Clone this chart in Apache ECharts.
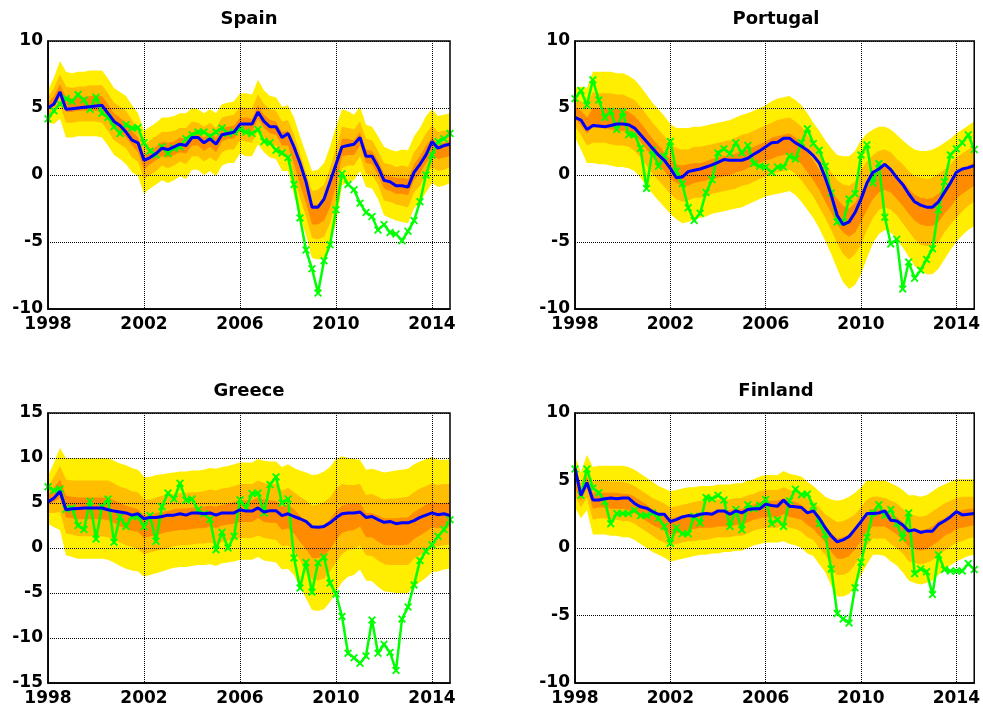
<!DOCTYPE html>
<html><head><meta charset="utf-8">
<script src="https://cdn.jsdelivr.net/npm/echarts@6/dist/echarts.min.js"></script>
<style>html,body{margin:0;padding:0;background:#fff}#c{width:983px;height:709px}</style>
</head><body><div id="c"></div>
<script>
// quarterly categories 1998Q1 .. 2014Q4
const quarters = [];
for (let y = 1998; y <= 2014; y++) for (let q = 1; q <= 4; q++) quarters.push(y + 'Q' + q);
const yearTicks = ['1998', '2002', '2006', '2010', '2014'];

// ---------- Spain ----------
const esLo = [3.9,3.8,4.2,2.8,2.8,2.9,2.9,2.9,2.9,2.8, 2.2,1.5,1.2,0.8,0.2,-0.1,-1.4,-1.0,-0.7,-0.4, -0.6,-0.4,-0.1,-0.3,0.4,0.4,0.0,0.3,-0.1,0.7, 0.9,0.9,1.6,1.4,1.4,2.3,1.7,1.3,1.2,0.3, 0.3,-1.5,-3.0,-4.5,-6.2,-6.3,-6.2,-5.2,-3.6,-0.8, -0.5,-0.4,0.3,-0.9,-1.0,-1.8,-3.0,-3.2,-3.4,-3.5, -3.6,-2.5,-2.0,-1.3,-0.6,-0.9,-0.8,-0.6];
const esHi = [6.3,7.3,8.5,7.7,7.6,7.7,7.7,7.8,7.8,7.8, 7.2,6.5,6.2,5.9,5.2,4.6,3.3,3.6,3.9,4.3, 4.3,4.4,4.6,4.6,5.0,4.9,4.6,4.9,4.6,5.3, 5.4,5.5,6.1,6.1,6.0,7.1,6.3,5.9,5.8,5.1, 5.2,4.3,2.9,1.6,0.3,0.4,0.9,2.1,3.6,4.9, 4.75,4.5,5.1,3.75,3.6,2.9,2.1,1.9,1.75,1.9, 1.85,2.9,3.5,4.4,4.9,4.4,4.5,4.6];
const esMidLo = [4.4,4.6,5.2,3.9,3.9,4.0,4.0,4.0,4.0,3.9, 3.3,2.6,2.3,2.0,1.3,1.0,-0.3,0.0,0.3,0.7, 0.5,0.7,1.0,0.8,1.4,1.4,1.0,1.3,1.0,1.7, 1.9,1.9,2.6,2.5,2.4,3.4,2.7,2.3,2.2,1.4, 1.4,-0.2,-1.7,-3.1,-4.7,-4.8,-4.6,-3.6,-2.0,0.5, 0.7,0.7,1.4,0.1,0.0,-0.7,-1.9,-2.0,-2.2,-2.3, -2.4,-1.3,-0.8,0.0,0.6,0.3,0.4,0.6];
const esMidHi = [5.8,6.5,7.5,6.6,6.5,6.6,6.6,6.7,6.7,6.7, 6.1,5.4,5.1,4.8,4.1,3.5,2.2,2.6,2.9,3.2, 3.2,3.3,3.5,3.5,4.0,3.9,3.6,3.9,3.5,4.3, 4.4,4.5,5.1,5.0,5.0,6.0,5.3,4.9,4.8,4.0, 4.1,3.0,1.6,0.2,-1.2,-1.1,-0.7,0.5,2.0,3.6, 3.5,3.4,4.0,2.7,2.6,1.8,0.9,0.8,0.6,0.7, 0.6,1.7,2.3,3.1,3.7,3.2,3.3,3.4];
const esCoreLo = [4.8,5.2,5.9,4.7,4.7,4.8,4.8,4.8,4.8,4.7, 4.2,3.5,3.2,2.8,2.2,1.7,0.4,0.8,1.1,1.4, 1.3,1.5,1.7,1.6,2.2,2.2,1.8,2.1,1.7,2.5, 2.7,2.7,3.4,3.2,3.2,4.2,3.5,3.1,3.0,2.2, 2.2,0.8,-0.7,-2.1,-3.7,-3.7,-3.4,-2.4,-0.8,1.4, 1.5,1.5,2.2,0.9,0.8,0.0,-1.0,-1.2,-1.4,-1.4, -1.5,-0.4,0.1,0.9,1.5,1.2,1.3,1.4];
const esCoreHi = [5.4,5.9,6.8,5.8,5.7,5.8,5.8,5.9,5.9,5.9, 5.3,4.6,4.3,3.9,3.3,2.8,1.5,1.8,2.1,2.5, 2.4,2.5,2.8,2.7,3.2,3.1,2.8,3.1,2.8,3.5, 3.6,3.7,4.3,4.3,4.2,5.2,4.5,4.1,4.0,3.2, 3.3,2.0,0.6,-0.8,-2.2,-2.2,-1.9,-0.7,0.8,2.7, 2.7,2.6,3.2,1.9,1.8,1.1,0.1,-0.1,-0.2,-0.2, -0.3,0.8,1.4,2.2,2.8,2.3,2.4,2.6];
const esMed = [5.0,5.3,6.2,4.9,4.95,5.0,5.05,5.1,5.15,5.2, 4.6,4.0,3.7,3.2,2.6,2.4,1.1,1.3,1.6,2.0, 1.9,2.1,2.3,2.2,2.8,2.8,2.4,2.7,2.3,3.0, 3.1,3.2,3.8,3.8,3.8,4.7,4.0,3.6,3.6,2.8, 3.1,2.1,0.9,-0.5,-2.4,-2.4,-1.8,-0.5,0.8,2.1, 2.2,2.3,2.8,1.4,1.4,0.6,-0.4,-0.5,-0.8,-0.8, -0.9,0.2,0.8,1.5,2.5,2.0,2.2,2.3];
const esAct = [4.2,4.8,5.3,5.7,5.5,6.0,5.6,4.9,5.8,4.6, 4.3,3.6,3.1,3.75,3.5,3.55,2.4,1.8,1.5,2.1, 1.6,2.0,2.1,2.7,3.0,3.2,3.2,2.9,3.2,3.5, 3.1,3.2,3.4,3.2,3.1,3.4,2.5,2.4,1.85,1.65, 1.3,-0.7,-3.2,-5.6,-7.0,-8.8,-6.4,-5.2,-2.6,0.1, -0.7,-1.1,-2.1,-2.8,-3.1,-4.1,-3.7,-4.3,-4.4,-4.9, -4.2,-3.4,-2.0,0.0,1.5,2.5,2.7,3.1];

// ---------- Portugal ----------
const ptLo = [2.8,1.9,0.9,0.9,0.8,0.8,0.7,0.6,0.6,0.5, 0.3,-0.2,-0.8,-1.4,-1.9,-2.4,-2.9,-3.3,-3.6,-3.5, -3.3,-3.2,-3.1,-2.9,-2.8,-2.7,-2.6,-2.5,-2.4,-2.2, -2.0,-1.8,-1.6,-1.5,-1.4,-1.3,-1.2,-1.5,-2.0,-2.6, -3.2,-4.0,-4.9,-5.9,-7.0,-8.0,-8.5,-8.2,-7.4,-6.2, -5.1,-4.4,-4.1,-4.3,-4.8,-5.4,-6.1,-6.8,-7.2,-7.4, -7.4,-7.0,-6.3,-5.6,-5.0,-4.5,-4.1,-3.8];
const ptHi = [6.5,6.6,6.5,7.7,7.7,7.7,7.7,7.6,7.6,7.4, 7.1,6.6,6.0,5.4,4.9,4.4,3.8,3.5,3.5,3.5, 3.6,3.6,3.7,3.8,3.9,4.0,4.1,4.3,4.5,4.6, 4.8,5.0,5.2,5.5,5.7,5.8,5.9,5.6,5.2,4.6, 3.9,3.3,2.6,2.0,1.5,1.4,1.4,1.8,2.6,3.1, 3.4,3.6,3.6,3.4,3.0,2.6,2.2,1.9,1.8,1.8, 1.9,2.1,2.4,2.7,3.1,3.4,3.7,4.0];
const ptMidLo = [3.6,3.0,2.2,2.4,2.4,2.4,2.3,2.2,2.2,2.1, 1.8,1.3,0.7,0.1,-0.4,-0.9,-1.4,-1.8,-2.0,-1.9, -1.7,-1.7,-1.6,-1.4,-1.3,-1.2,-1.1,-1.0,-0.8,-0.7, -0.5,-0.3,-0.1,0.1,0.2,0.3,0.4,0.1,-0.4,-1.0, -1.6,-2.4,-3.2,-4.1,-5.1,-5.9,-6.3,-5.9,-5.2,-4.1, -3.2,-2.6,-2.4,-2.6,-3.0,-3.6,-4.2,-4.8,-5.2,-5.3, -5.3,-5.0,-4.3,-3.7,-3.2,-2.7,-2.3,-2.0];
const ptMidHi = [5.7,5.5,5.2,6.2,6.1,6.1,6.1,6.0,6.0,5.8, 5.6,5.1,4.5,3.9,3.4,2.9,2.3,2.0,1.9,1.9, 2.1,2.1,2.2,2.3,2.4,2.5,2.6,2.8,3.0,3.1, 3.3,3.5,3.7,3.9,4.1,4.2,4.3,4.0,3.6,3.0, 2.3,1.7,0.9,0.2,-0.4,-0.7,-0.8,-0.5,0.4,1.0, 1.5,1.8,1.9,1.7,1.2,0.8,0.3,-0.1,-0.2,-0.3, -0.2,0.1,0.4,0.8,1.3,1.6,1.9,2.2];
const ptCoreLo = [4.2,3.7,3.1,3.6,3.5,3.5,3.4,3.3,3.3,3.2, 3.0,2.5,1.9,1.3,0.8,0.3,-0.3,-0.6,-0.8,-0.8, -0.6,-0.5,-0.4,-0.3,-0.2,-0.1,0.0,0.2,0.3,0.5, 0.7,0.9,1.1,1.2,1.4,1.5,1.6,1.3,0.8,0.2, -0.4,-1.1,-2.0,-2.8,-3.7,-4.3,-4.6,-4.3,-3.5,-2.6, -1.8,-1.3,-1.1,-1.3,-1.8,-2.3,-2.9,-3.4,-3.7,-3.8, -3.8,-3.5,-2.9,-2.4,-1.8,-1.4,-1.1,-0.8];
const ptCoreHi = [5.1,4.8,4.3,5.0,5.0,5.0,5.0,4.9,4.9,4.7, 4.4,3.9,3.3,2.7,2.2,1.7,1.2,0.8,0.7,0.8, 0.9,0.9,1.0,1.2,1.3,1.4,1.5,1.6,1.8,1.9, 2.1,2.3,2.5,2.8,2.9,3.0,3.1,2.8,2.4,1.8, 1.1,0.4,-0.3,-1.1,-1.8,-2.3,-2.5,-2.1,-1.3,-0.5, 0.1,0.5,0.6,0.4,0.0,-0.5,-1.0,-1.5,-1.7,-1.8, -1.7,-1.4,-1.0,-0.5,0.0,0.3,0.7,0.9];
const ptMed = [4.3,4.1,3.4,3.7,3.65,3.6,3.7,3.8,3.8,3.75, 3.5,3.0,2.5,2.0,1.5,1.1,0.5,-0.2,-0.15,0.25, 0.35,0.45,0.6,0.75,0.95,1.15,1.1,1.1,1.1,1.25, 1.55,1.8,2.1,2.4,2.45,2.75,2.75,2.4,2.15,1.85, 1.45,0.9,-0.2,-1.5,-3.0,-3.7,-3.5,-2.8,-1.8,-0.6, 0.2,0.45,0.8,0.4,-0.2,-0.7,-1.4,-2.0,-2.25,-2.4, -2.4,-2.0,-1.3,-0.6,0.2,0.45,0.55,0.7];
const ptAct = [5.7,6.3,5.2,7.1,5.6,4.3,4.75,3.4,4.7,3.0, 3.0,2.0,-1.0,1.85,0.65,1.4,2.5,0.3,-0.65,-2.45, -3.4,-2.85,-1.3,-0.35,1.65,1.95,1.6,2.4,1.65,2.2, 0.85,0.65,0.6,0.2,0.6,0.6,1.4,1.2,2.4,3.45, 2.35,1.85,0.65,-1.35,-3.5,-3.5,-1.8,-1.4,1.5,2.25, -0.6,0.85,-3.15,-5.15,-4.8,-8.5,-6.5,-7.7,-7.1,-6.3, -5.5,-2.6,-0.5,1.5,1.95,2.4,3.0,1.9];

// ---------- Greece ----------
const grLo = [2.7,2.3,2.0,-0.8,-1.0,-1.2,-1.2,-1.2,-1.2,-1.2, -1.3,-1.6,-2.0,-2.3,-2.5,-2.6,-3.2,-3.0,-2.8,-2.6, -2.4,-2.2,-2.1,-2.1,-2.0,-1.9,-1.9,-1.8,-2.0,-1.7, -1.6,-1.5,-1.3,-1.3,-1.3,-1.0,-1.4,-1.5,-1.6,-2.4, -2.3,-3.0,-4.3,-5.6,-6.9,-7.0,-6.8,-6.0,-4.9,-3.8, -3.2,-3.0,-2.4,-3.6,-3.7,-4.3,-4.8,-4.9,-5.0,-5.0, -5.0,-4.3,-3.8,-3.3,-2.7,-2.6,-2.4,-2.3];
const grHi = [8.0,9.5,11.1,10.0,10.0,10.0,10.0,10.0,10.0,10.0, 10.0,9.7,9.4,9.2,8.9,8.7,7.9,7.9,8.1,8.2, 8.3,8.4,8.5,8.5,8.6,8.6,8.7,8.9,8.8,9.0, 9.1,9.3,9.5,9.5,9.5,9.9,9.7,9.6,9.6,9.0, 9.3,8.9,8.6,8.4,8.1,8.2,8.5,9.0,9.9,10.2, 10.0,9.9,9.8,8.7,8.8,8.6,8.4,8.5,8.6,8.7, 8.8,9.3,9.6,9.9,10.1,9.8,9.8,9.8];
const grMidLo = [3.9,3.9,4.0,1.6,1.5,1.3,1.3,1.3,1.3,1.3, 1.2,0.9,0.6,0.3,0.1,-0.1,-0.7,-0.5,-0.3,-0.2, 0.0,0.2,0.3,0.3,0.4,0.5,0.5,0.6,0.4,0.7, 0.8,0.9,1.1,1.1,1.1,1.4,1.1,1.0,0.9,0.2, 0.3,-0.3,-1.4,-2.5,-3.5,-3.6,-3.4,-2.6,-1.6,-0.7, -0.2,-0.1,0.3,-0.8,-0.9,-1.4,-1.8,-1.9,-1.9,-1.9, -1.9,-1.2,-0.8,-0.3,0.2,0.2,0.3,0.4];
const grMidHi = [6.8,7.9,9.1,7.6,7.5,7.5,7.5,7.5,7.5,7.5, 7.5,7.2,6.8,6.6,6.3,6.2,5.4,5.4,5.6,5.8, 5.9,6.0,6.1,6.1,6.2,6.2,6.3,6.5,6.4,6.6, 6.7,6.9,7.1,7.1,7.1,7.5,7.2,7.1,7.1,6.4, 6.7,6.2,5.7,5.3,4.7,4.8,5.1,5.6,6.6,7.1, 7.0,7.0,7.1,5.9,6.0,5.7,5.4,5.5,5.5,5.6, 5.7,6.2,6.6,6.9,7.2,7.0,7.1,7.1];
const grCoreLo = [4.8,5.1,5.5,3.4,3.3,3.2,3.2,3.2,3.2,3.2, 3.1,2.8,2.4,2.2,1.9,1.8,1.1,1.3,1.4,1.6, 1.8,1.9,2.0,2.0,2.1,2.2,2.2,2.4,2.2,2.5, 2.6,2.7,2.9,2.9,2.9,3.3,2.9,2.8,2.8,2.0, 2.2,1.6,0.7,-0.1,-1.1,-1.1,-0.8,-0.2,0.9,1.7, 1.9,2.0,2.4,1.2,1.2,0.7,0.3,0.3,0.3,0.3, 0.4,1.0,1.4,1.8,2.3,2.2,2.4,2.4];
const grCoreHi = [5.9,6.7,7.6,5.8,5.7,5.6,5.6,5.6,5.6,5.6, 5.6,5.3,5.0,4.7,4.5,4.3,3.6,3.6,3.9,4.0, 4.1,4.3,4.4,4.4,4.5,4.5,4.6,4.7,4.6,4.8, 4.9,5.1,5.3,5.3,5.3,5.6,5.4,5.3,5.2,4.6, 4.8,4.3,3.6,2.9,2.3,2.3,2.5,3.2,4.1,4.7, 4.9,4.9,5.0,3.9,3.9,3.6,3.3,3.3,3.3,3.4, 3.4,4.0,4.4,4.8,5.1,5.0,5.0,5.1];
const grMed = [5.1,5.55,6.3,4.25,4.35,4.4,4.45,4.45,4.45,4.45, 4.25,4.1,4.0,3.9,3.65,3.8,3.25,3.4,3.4,3.5, 3.65,3.65,3.8,3.65,3.9,3.9,3.8,3.9,3.65,3.9, 3.9,3.9,4.25,4.1,4.1,4.45,4.0,4.15,4.15,3.6, 3.8,3.5,3.25,2.95,2.35,2.3,2.4,2.8,3.35,3.8, 3.9,3.9,4.0,3.4,3.5,3.15,2.85,2.95,2.7,2.8, 2.8,3.05,3.4,3.65,3.9,3.7,3.8,3.6];
const grAct = [6.8,6.4,6.55,4.3,4.45,2.5,2.05,5.2,1.0,4.55, 5.45,0.65,3.5,2.4,3.5,3.5,2.35,3.6,0.75,4.6, 6.1,5.45,7.2,5.3,5.45,4.25,3.8,3.2,-0.2,1.75, 0.0,1.3,5.35,4.45,6.05,6.1,3.9,7.05,7.9,5.0, 5.45,-1.1,-4.45,-1.6,-4.9,-1.65,-1.0,-3.9,-5.1,-7.6, -11.7,-12.2,-12.8,-12.0,-8.0,-11.7,-10.7,-11.6,-13.6,-7.9, -6.55,-4.1,-1.4,-0.35,0.35,1.3,2.05,3.15];

// ---------- Finland ----------
const fiLo = [3.0,2.2,2.8,1.0,1.0,1.0,0.9,0.9,0.8,0.8, 0.6,0.3,0.0,-0.3,-0.5,-0.7,-1.0,-0.9,-0.8,-0.7, -0.6,-0.5,-0.5,-0.4,-0.4,-0.3,-0.3,-0.2,-0.2,0.0, 0.2,0.3,0.4,0.4,0.4,0.5,0.3,0.2,0.0,-0.4, -0.6,-1.2,-1.8,-2.8,-3.6,-3.6,-3.4,-2.8,-2.0,-1.2, -0.5,-0.5,-0.6,-1.0,-1.3,-1.8,-2.4,-2.6,-2.7,-2.6, -2.4,-2.0,-1.6,-1.3,-1.0,-0.8,-0.6,-0.5];
const fiHi = [6.8,5.6,6.9,6.0,6.1,6.1,6.1,6.1,6.1,6.0, 5.8,5.5,5.2,4.9,4.6,4.4,4.2,4.3,4.4,4.5, 4.5,4.6,4.6,4.6,4.7,4.7,4.7,4.8,4.8,5.0, 5.1,5.3,5.4,5.4,5.4,5.7,5.5,5.4,5.3,4.9, 4.6,4.2,3.8,3.6,3.5,3.6,3.8,4.1,4.5,5.0, 5.0,5.0,5.0,4.8,4.6,4.3,3.9,3.9,3.8,3.9, 4.2,4.5,4.7,4.9,5.1,5.1,5.1,5.1];
const fiMidLo = [3.9,3.0,3.7,2.1,2.2,2.2,2.1,2.1,2.0,2.0, 1.8,1.5,1.2,0.9,0.6,0.4,0.2,0.3,0.4,0.5, 0.5,0.6,0.6,0.7,0.8,0.8,0.8,0.9,0.9,1.1, 1.3,1.4,1.5,1.5,1.5,1.7,1.5,1.4,1.2,0.8, 0.6,0.0,-0.5,-1.4,-2.0,-2.0,-1.8,-1.2,-0.5,0.2, 0.7,0.7,0.7,0.3,0.0,-0.4,-1.0,-1.1,-1.2,-1.1, -0.9,-0.5,-0.2,0.1,0.4,0.5,0.7,0.8];
const fiMidHi = [5.9,4.8,6.0,4.9,5.0,5.0,4.9,4.9,4.9,4.8, 4.6,4.3,4.0,3.7,3.5,3.3,3.0,3.1,3.2,3.3, 3.4,3.5,3.5,3.5,3.6,3.6,3.6,3.7,3.7,3.9, 4.0,4.2,4.3,4.3,4.3,4.5,4.3,4.2,4.1,3.7, 3.4,3.0,2.5,2.2,1.9,2.0,2.2,2.5,3.0,3.6, 3.8,3.8,3.7,3.5,3.3,2.9,2.5,2.4,2.3,2.4, 2.7,3.0,3.3,3.5,3.7,3.8,3.8,3.8];
const fiCoreLo = [4.5,3.5,4.4,2.9,3.0,3.0,2.9,2.9,2.9,2.8, 2.6,2.3,2.0,1.7,1.5,1.3,1.0,1.1,1.2,1.3, 1.4,1.5,1.5,1.5,1.6,1.6,1.6,1.7,1.7,1.9, 2.1,2.2,2.3,2.3,2.3,2.5,2.3,2.2,2.1,1.7, 1.4,0.9,0.4,-0.3,-0.8,-0.8,-0.6,-0.1,0.5,1.2, 1.6,1.6,1.6,1.3,1.0,0.6,0.1,-0.1,-0.2,-0.1, 0.2,0.5,0.9,1.1,1.4,1.5,1.6,1.7];
const fiCoreHi = [5.3,4.3,5.3,4.1,4.1,4.1,4.1,4.1,4.0,4.0, 3.8,3.5,3.2,2.9,2.6,2.4,2.2,2.3,2.4,2.5, 2.5,2.6,2.6,2.7,2.7,2.8,2.8,2.9,2.9,3.1, 3.2,3.4,3.5,3.5,3.5,3.7,3.5,3.4,3.2,2.8, 2.6,2.1,1.6,1.1,0.7,0.8,1.0,1.4,1.9,2.6, 2.9,2.9,2.8,2.5,2.3,1.9,1.4,1.4,1.3,1.4, 1.6,2.0,2.2,2.5,2.7,2.8,2.9,2.9];
const fiMed = [5.9,3.9,4.85,3.55,3.55,3.65,3.7,3.65,3.7,3.7, 3.3,3.05,2.95,2.7,2.5,2.5,1.95,2.1,2.3,2.4, 2.35,2.5,2.55,2.5,2.75,2.75,2.5,2.75,2.6,2.85, 2.9,2.9,3.25,3.15,3.1,3.55,3.1,3.05,3.0,2.6, 2.75,2.2,1.5,0.9,0.45,0.6,0.85,1.4,1.95,2.55, 2.55,2.6,2.75,2.05,2.0,1.7,1.25,1.35,1.15,1.25, 1.25,1.75,2.0,2.3,2.7,2.45,2.5,2.55];
const fiAct = [5.85,3.9,5.85,4.45,4.1,3.45,1.8,2.55,2.55,2.55, 2.8,2.4,2.4,2.6,2.2,1.6,0.35,1.5,1.05,1.05, 2.35,1.85,3.75,3.65,3.9,3.55,1.6,2.85,1.35,3.2, 2.9,3.15,3.6,1.8,2.1,1.6,3.5,4.35,3.95,4.0, 3.1,1.8,1.0,-1.55,-4.85,-5.25,-5.55,-2.95,-1.05,0.8, 2.6,3.2,2.4,2.85,1.8,0.75,2.6,-1.9,-1.55,-1.75, -3.45,-0.5,-1.6,-1.7,-1.7,-1.7,-1.15,-1.6];

// ---------- layout / style ----------
const FONT = 'DejaVu Sans';
const panels = [
  { name: 'Spain',    box: { left: 48,  top: 41,  width: 402, height: 268 }, yMin: -10, yMax: 10,
    lo: esLo, hi: esHi, midLo: esMidLo, midHi: esMidHi, coreLo: esCoreLo, coreHi: esCoreHi, med: esMed, act: esAct },
  { name: 'Portugal', box: { left: 575, top: 41,  width: 402, height: 268 }, yMin: -10, yMax: 10,
    lo: ptLo, hi: ptHi, midLo: ptMidLo, midHi: ptMidHi, coreLo: ptCoreLo, coreHi: ptCoreHi, med: ptMed, act: ptAct },
  { name: 'Greece',   box: { left: 48,  top: 413, width: 402, height: 270 }, yMin: -15, yMax: 15,
    lo: grLo, hi: grHi, midLo: grMidLo, midHi: grMidHi, coreLo: grCoreLo, coreHi: grCoreHi, med: grMed, act: grAct },
  { name: 'Finland',  box: { left: 575, top: 413, width: 402, height: 270 }, yMin: -10, yMax: 10,
    lo: fiLo, hi: fiHi, midLo: fiMidLo, midHi: fiMidHi, coreLo: fiCoreLo, coreHi: fiCoreHi, med: fiMed, act: fiAct }
];
const bandColors = ['#FFEE00', '#FFBE00', '#FF8C00'];
const isYearTick = (idx, val) => val.endsWith('Q1') && yearTicks.includes(val.slice(0, 4));
const xMark = 'path://M0,1.6L1.6,0L5,3.4L8.4,0L10,1.6L6.6,5L10,8.4L8.4,10L5,6.6L1.6,10L0,8.4L3.4,5Z';
const labelStyle = { color: '#000', fontFamily: FONT, fontWeight: 'bold', fontSize: 17 };
const gridLine = { show: true, lineStyle: { color: '#000', width: 1, type: [1, 1] } };

function band(gi, lower, upper, color) {
  return {
    type: 'custom', xAxisIndex: gi, yAxisIndex: gi, z: 1, silent: true,
    data: [[0, 0]],
    renderItem: function (params, api) {
      const pts = [];
      for (let i = 0; i < lower.length; i++) pts.push(api.coord([i, lower[i]]));
      for (let i = upper.length - 1; i >= 0; i--) pts.push(api.coord([i, upper[i]]));
      return { type: 'polygon', shape: { points: pts }, style: { fill: color } };
    }
  };
}

const option = {
  animation: false,
  backgroundColor: '#fff',
  title: panels.map(p => ({
    text: p.name, left: p.box.left + p.box.width / 2, top: p.box.top - 31, textAlign: 'center', padding: 0,
    textStyle: { color: '#000', fontFamily: FONT, fontWeight: 'bold', fontSize: 18 }
  })),
  grid: panels.map(p => Object.assign({ show: true, borderColor: '#000', borderWidth: 1.5, backgroundColor: 'transparent', z: 10 }, p.box)),
  xAxis: panels.map((p, i) => ({
    type: 'category', gridIndex: i, data: quarters, boundaryGap: false, z: 3,
    axisLine: { show: true, onZero: false, lineStyle: { color: '#000', width: 1.5 } },
    axisTick: { show: false },
    axisLabel: Object.assign({ interval: isYearTick, formatter: v => v.slice(0, 4), margin: 7 }, labelStyle),
    splitLine: Object.assign({ interval: isYearTick }, gridLine)
  })),
  yAxis: panels.map((p, i) => ({
    type: 'value', gridIndex: i, min: p.yMin, max: p.yMax, interval: 5, z: 3,
    axisLine: { show: true, onZero: false, lineStyle: { color: '#000', width: 1.5 } },
    axisTick: { show: false },
    axisLabel: Object.assign({ margin: 5 }, labelStyle),
    splitLine: gridLine
  })),
  series: []
};

panels.forEach((p, i) => {
  option.series.push(band(i, p.lo, p.hi, bandColors[0]));
  option.series.push(band(i, p.midLo, p.midHi, bandColors[1]));
  option.series.push(band(i, p.coreLo, p.coreHi, bandColors[2]));
  option.series.push({
    type: 'line', xAxisIndex: i, yAxisIndex: i, data: p.act, z: 5,
    symbol: xMark, symbolSize: 8, showSymbol: true, showAllSymbol: true,
    lineStyle: { color: '#00FF00', width: 2.5 }, itemStyle: { color: '#00FF00' }
  });
  option.series.push({
    type: 'line', xAxisIndex: i, yAxisIndex: i, data: p.med, z: 6,
    showSymbol: false, symbol: 'none',
    lineStyle: { color: '#0000FF', width: 3 }
  });
});

const chart = echarts.init(document.getElementById('c'), null, { renderer: 'canvas' });
chart.setOption(option);
</script>
</body></html>
